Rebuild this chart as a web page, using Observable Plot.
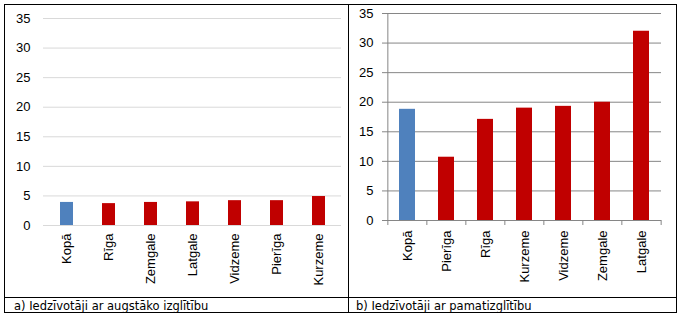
<!DOCTYPE html>
<html>
<head>
<meta charset="utf-8">
<script src="https://cdn.jsdelivr.net/npm/d3@7"></script>
<script src="https://cdn.jsdelivr.net/npm/@observablehq/plot@0.6"></script>
<style>
  html, body { margin: 0; padding: 0; background: #fff; }
  #wrap { position: relative; width: 686px; height: 324px; overflow: hidden; font-family: "Liberation Sans", Arial, sans-serif; }
  .line { position: absolute; background: #000; }
  .cap { position: absolute; font-family: "DejaVu Sans", sans-serif; font-size: 11.5px; color: #000; line-height: 14px; }
  .chart { position: absolute; }
  #wrap svg text { font-size: 13px !important; font-family: "Liberation Sans", Arial, sans-serif !important; }
</style>
</head>
<body>
<div id="wrap">
  <div class="chart" id="chartA" style="left:5px; top:5px;"></div>
  <div class="chart" id="chartB" style="left:349px; top:5px;"></div>
  <div class="line" style="left:4px; top:4px; width:673px; height:1px;"></div>
  <div class="line" style="left:4px; top:312px; width:673px; height:1px;"></div>
  <div class="line" style="left:4px; top:297px; width:673px; height:1px;"></div>
  <div class="line" style="left:4px; top:4px; width:1px; height:309px;"></div>
  <div class="line" style="left:676px; top:4px; width:1px; height:309px;"></div>
  <div class="line" style="left:348px; top:4px; width:1px; height:309px;"></div>
  <div class="cap" id="capA" style="left:14px; top:299px;"></div>
  <div class="cap" id="capB" style="left:356px; top:299px;"></div>
</div>
<script>
const catsA = ["Kopā", "Rīga", "Zemgale", "Latgale", "Vidzeme", "Pierīga", "Kurzeme"];
const valsA = [3.9, 3.7, 3.9, 4.0, 4.2, 4.2, 4.9];
const catsB = ["Kopā", "Pierīga", "Rīga", "Kurzeme", "Vidzeme", "Zemgale", "Latgale"];
const valsB = [18.8, 10.7, 17.1, 19.0, 19.3, 20.0, 32.0];
const yTicks = [0, 5, 10, 15, 20, 25, 30, 35];
const captions = ["a) Iedzīvotāji ar augstāko izglītību", "b) Iedzīvotāji ar pamatizglītību"];
const totalLabel = "Kopā";
const blue = "#4F81BD", red = "#C00000";

const dataA = catsA.map((c, i) => ({cat: c, v: valsA[i]}));
const dataB = catsB.map((c, i) => ({cat: c, v: valsB[i]}));

const fontStyle = {fontFamily: "'Liberation Sans', Arial, sans-serif", fontSize: "13px", color: "#000", background: "transparent"};

// Chart A
const wA = 343, hA = 292;
const chartA = Plot.plot({
  width: wA, height: hA,
  marginTop: 13, marginBottom: 72, marginLeft: 38, marginRight: 7,
  style: fontStyle,
  x: {domain: catsA, paddingInner: 0.7, paddingOuter: 0.35, label: null},
  y: {domain: [0, 35], label: null},
  marks: [
    Plot.gridY(yTicks, {stroke: "#d9d9d9", strokeOpacity: 1}),
    Plot.barY(dataA, {x: "cat", y: "v", fill: d => d.cat === totalLabel ? blue : red}),
    Plot.axisY(yTicks, {tickSize: 0, tickPadding: 13, label: null, fill: "#000"}),
    Plot.axisX(catsA, {tickSize: 0, tickPadding: 8, tickRotate: -90, label: null, fill: "#000"})
  ]
});
document.getElementById("chartA").appendChild(chartA);

// Chart B
const wB = 327, hB = 292;
const mlB = 37, mrB = 15;
const bwB = (wB - mlB - mrB) / catsB.length;
const chartB = Plot.plot({
  width: wB, height: hB,
  marginTop: 8, marginBottom: 77, marginLeft: mlB, marginRight: mrB,
  style: fontStyle,
  x: {domain: catsB, paddingInner: 0.6, paddingOuter: 0.3, label: null},
  y: {domain: [0, 35], label: null},
  marks: [
    Plot.gridY(yTicks, {stroke: "#868686", strokeOpacity: 1}),
    Plot.barY(dataB, {x: "cat", y: "v", fill: d => d.cat === totalLabel ? blue : red}),
    Plot.ruleY([0], {stroke: "#868686"}),
    Plot.ruleX([catsB[0]], {dx: -bwB / 2, stroke: "#868686"}),
    Plot.axisY(yTicks, {tickSize: 4, tickPadding: 9, stroke: "#868686", label: null, fill: "#000"}),
    Plot.axisX(catsB, {tickSize: 5, text: null, dx: -bwB / 2, stroke: "#868686", label: null}),
    Plot.axisX([catsB[catsB.length - 1]], {tickSize: 5, text: null, dx: bwB / 2, stroke: "#868686", label: null}),
    Plot.axisX(catsB, {tickSize: 0, tickPadding: 10, tickRotate: -90, label: null, fill: "#000"})
  ]
});
document.getElementById("chartB").appendChild(chartB);

document.getElementById("capA").textContent = captions[0];
document.getElementById("capB").textContent = captions[1];
</script>
</body>
</html>
